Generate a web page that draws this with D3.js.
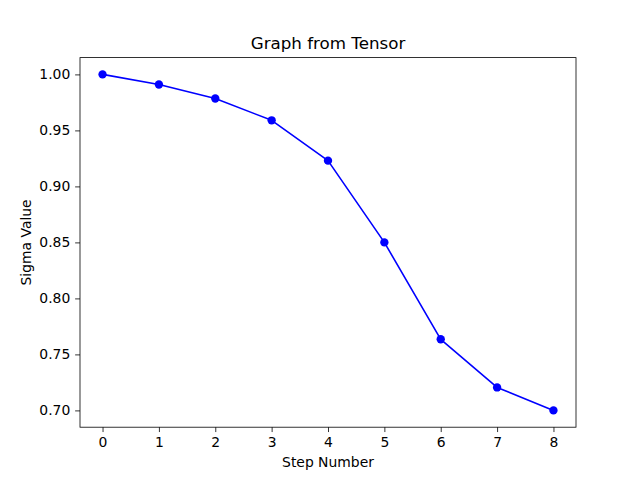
<!DOCTYPE html>
<html>
<head>
<meta charset="utf-8">
<script src="https://cdn.jsdelivr.net/npm/d3@7"></script>
<style>
  body { margin: 0; background: #fff; }
  svg { display: block; font-family: "DejaVu Sans", sans-serif; }
</style>
</head>
<body>
<svg width="640" height="480"></svg>
<script>
// values
const steps = [0, 1, 2, 3, 4, 5, 6, 7, 8];
const sigma = [1.0, 0.991, 0.9785, 0.959, 0.923, 0.85, 0.7635, 0.7205, 0.70];
const xTicks = [0, 1, 2, 3, 4, 5, 6, 7, 8];
const yTicks = [0.70, 0.75, 0.80, 0.85, 0.90, 0.95, 1.00];

const svg = d3.select("svg");
const axLeft = 80, axRight = 576, axTop = 57.6, axBottom = 427.2;

const x = d3.scaleLinear().domain([-0.4, 8.4]).range([axLeft, axRight]);
const y = d3.scaleLinear().domain([0.685, 1.015]).range([axBottom, axTop]);

// axes
const xAxis = d3.axisBottom(x).tickValues(xTicks).tickFormat(d3.format("d"))
   .tickSize(4.86).tickPadding(4.86).tickSizeOuter(0);
const yAxis = d3.axisLeft(y).tickValues(yTicks).tickFormat(d3.format(".2f"))
   .tickSize(4.86).tickPadding(4.86).tickSizeOuter(0);

const gx = svg.append("g").attr("transform", `translate(0,${axBottom})`).call(xAxis);
const gy = svg.append("g").attr("transform", `translate(${axLeft},0)`).call(yAxis);

[gx, gy].forEach(g => {
   g.select(".domain").remove();
   g.selectAll(".tick line").attr("stroke", "#000").attr("stroke-width", 0.8);
   g.selectAll(".tick text").attr("fill", "#000").style("font-size", "13.9px")
      .style("font-family", "DejaVu Sans, sans-serif");
});

// line + markers
const line = d3.line().x((d, i) => x(steps[i])).y(d => y(d));

svg.append("path")
   .datum(sigma)
   .attr("d", line)
   .attr("fill", "none")
   .attr("stroke", "#0000ff")
   .attr("stroke-width", 1.6)
   .attr("stroke-linejoin", "round");

svg.append("g")
   .selectAll("circle")
   .data(sigma)
   .enter()
   .append("circle")
   .attr("cx", (d, i) => x(steps[i]))
   .attr("cy", d => y(d))
   .attr("r", 4.17)
   .attr("fill", "#0000ff");

// frame
svg.append("rect")
   .attr("x", axLeft).attr("y", axTop)
   .attr("width", axRight - axLeft).attr("height", axBottom - axTop)
   .attr("fill", "none").attr("stroke", "#000").attr("stroke-width", 0.8);

// texts
svg.append("text")
   .attr("x", (axLeft + axRight) / 2).attr("y", 49)
   .attr("text-anchor", "middle")
   .style("font-size", "16.7px")
   .text("Graph from Tensor");

svg.append("text")
   .attr("x", (axLeft + axRight) / 2).attr("y", 467)
   .attr("text-anchor", "middle")
   .style("font-size", "13.9px")
   .text("Step Number");

svg.append("text")
   .attr("transform", `translate(31,${(axTop + axBottom) / 2}) rotate(-90)`)
   .attr("text-anchor", "middle")
   .style("font-size", "13.9px")
   .text("Sigma Value");
</script>
</body>
</html>
